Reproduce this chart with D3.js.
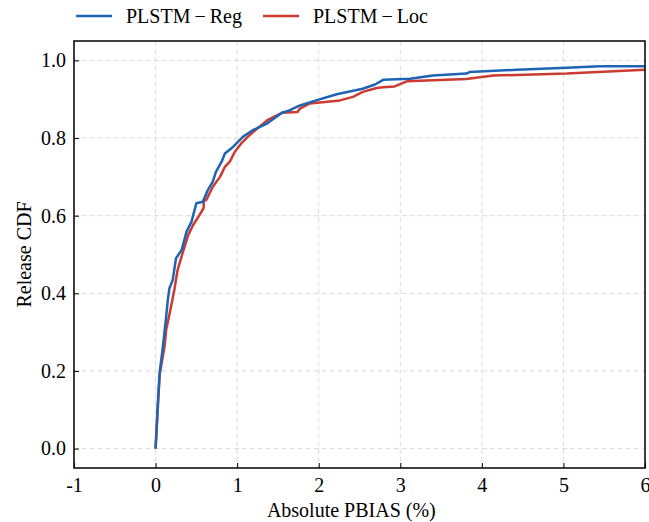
<!DOCTYPE html>
<html>
<head>
<meta charset="utf-8">
<script src="https://cdn.jsdelivr.net/npm/d3@7"></script>
<style>
  body { margin: 0; background: #fff; }
</style>
</head>
<body>
<div id="chart"></div>
<script>
var width = 649,
    height = 522;
var serif = "'Liberation Serif', 'Times New Roman', Times, 'DejaVu Serif', serif";

// ECDF: absolute PBIAS (%) and cumulative fraction
var regX = [0, 0.03, 0.05, 0.09, 0.13, 0.15, 0.17, 0.21, 0.25, 0.32, 0.38, 0.44, 0.50, 0.58, 0.64, 0.70, 0.74, 0.81, 0.85, 0.95, 1.07, 1.19, 1.28, 1.37, 1.55, 1.64, 1.77, 1.97, 2.22, 2.54, 2.69, 2.79, 3.12, 3.40, 3.81, 3.85, 4.43, 5.04, 5.45, 6.0];
var regY = [0, 0.126, 0.195, 0.263, 0.34, 0.383, 0.413, 0.434, 0.49, 0.512, 0.559, 0.584, 0.632, 0.636, 0.666, 0.687, 0.713, 0.739, 0.760, 0.777, 0.803, 0.82, 0.829, 0.838, 0.865, 0.871, 0.884, 0.897, 0.913, 0.927, 0.938, 0.950, 0.953, 0.961, 0.966, 0.970, 0.976, 0.981, 0.985, 0.985];

var locX = [0, 0.05, 0.11, 0.13, 0.19, 0.23, 0.27, 0.33, 0.40, 0.46, 0.54, 0.59, 0.59, 0.62, 0.70, 0.79, 0.85, 0.91, 0.97, 1.05, 1.15, 1.25, 1.37, 1.55, 1.74, 1.77, 1.89, 2.26, 2.42, 2.54, 2.71, 2.79, 2.93, 3.08, 3.81, 4.14, 5.04, 6.0];
var locY = [0, 0.19, 0.263, 0.306, 0.366, 0.409, 0.46, 0.503, 0.55, 0.576, 0.602, 0.62, 0.64, 0.64, 0.674, 0.70, 0.726, 0.739, 0.764, 0.786, 0.807, 0.825, 0.846, 0.865, 0.867, 0.876, 0.889, 0.897, 0.906, 0.919, 0.929, 0.931, 0.933, 0.946, 0.952, 0.961, 0.966, 0.976];

var seriesNames = ["PLSTM\u2009\u2212\u2009Reg", "PLSTM\u2009\u2212\u2009Loc"];
var seriesColors = ["#1f63b5", "#cc3b2f"];
var xTicks = [-1, 0, 1, 2, 3, 4, 5, 6];
var yTicks = [0, 0.2, 0.4, 0.6, 0.8, 1.0];

var margin = {left: 74, top: 41, right: 4, bottom: 54};
var pw = width - margin.left - margin.right,
    ph = height - margin.top - margin.bottom;

var svg = d3.select("#chart").append("svg")
        .attr("width", width)
        .attr("height", height)
        .style("font-family", serif);

var x = d3.scaleLinear().domain([-1, 6]).range([0, pw]);
var y = d3.scaleLinear().domain([-0.05, 1.05]).range([ph, 0]);

var g = svg.append("g").attr("transform", "translate(" + margin.left + "," + margin.top + ")");

// grid
g.append("g").selectAll("line").data(xTicks).enter().append("line")
        .attr("x1", function (d) { return x(d); })
        .attr("x2", function (d) { return x(d); })
        .attr("y1", 0).attr("y2", ph)
        .attr("stroke", "#dcdcdc")
        .attr("stroke-width", 1)
        .attr("stroke-dasharray", "5,3");
g.append("g").selectAll("line").data(yTicks).enter().append("line")
        .attr("y1", function (d) { return y(d); })
        .attr("y2", function (d) { return y(d); })
        .attr("x1", 0).attr("x2", pw)
        .attr("stroke", "#dcdcdc")
        .attr("stroke-width", 1)
        .attr("stroke-dasharray", "5,3");

// axes, ticks pointing inward
var xAxis = g.append("g").attr("transform", "translate(0," + ph + ")")
        .call(d3.axisBottom(x).tickValues(xTicks).tickSizeInner(-5).tickSizeOuter(0)
                .tickPadding(10).tickFormat(function (d) { return String(d); }));
var yAxis = g.append("g")
        .call(d3.axisLeft(y).tickValues(yTicks).tickSizeInner(-5).tickSizeOuter(0)
                .tickPadding(8).tickFormat(function (d) { return d.toFixed(1); }));
[xAxis, yAxis].forEach(function (a) {
    a.attr("font-family", null);
    a.select(".domain").remove();
    a.selectAll("line").attr("stroke", "#000").attr("stroke-width", 1);
    a.selectAll("text").attr("font-size", "20px").attr("fill", "#000")
            .style("font-family", serif);
});

// lines
var clip = svg.append("clipPath").attr("id", "clip")
        .append("rect").attr("width", pw).attr("height", ph);
var line = d3.line()
        .x(function (d) { return x(d[0]); })
        .y(function (d) { return y(d[1]); });
var series = [d3.zip(regX, regY), d3.zip(locX, locY)];
// draw red first so blue sits on top where they overlap near the origin
[1, 0].forEach(function (i) {
    g.append("path")
            .datum(series[i])
            .attr("d", line)
            .attr("fill", "none")
            .attr("stroke", seriesColors[i])
            .attr("stroke-width", 2.5)
            .attr("stroke-linejoin", "round")
            .attr("clip-path", "url(#clip)");
});

// frame
g.append("rect")
        .attr("width", pw).attr("height", ph)
        .attr("fill", "none")
        .attr("stroke", "#000")
        .attr("stroke-width", 1.5);

// axis labels
svg.append("text")
        .attr("x", margin.left + x(2.4))
        .attr("y", 517)
        .attr("text-anchor", "middle")
        .attr("font-size", "20px")
        .style("font-family", serif)
        .text("Absolute PBIAS (%)");
svg.append("text")
        .attr("transform", "translate(31," + (margin.top + y(0.5)) + ") rotate(-90)")
        .attr("text-anchor", "middle")
        .attr("font-size", "20px")
        .style("font-family", serif)
        .text("Release CDF");

// legend
var legX = [76, 263];
var legend = svg.append("g");
seriesNames.forEach(function (name, i) {
    legend.append("line")
            .attr("x1", legX[i]).attr("x2", legX[i] + 36)
            .attr("y1", 16).attr("y2", 16)
            .attr("stroke", seriesColors[i])
            .attr("stroke-width", 2.5);
    legend.append("text")
            .attr("x", legX[i] + 50)
            .attr("y", 23)
            .attr("font-size", "20px")
            .style("font-family", serif)
            .text(name);
});
</script>
</body>
</html>
